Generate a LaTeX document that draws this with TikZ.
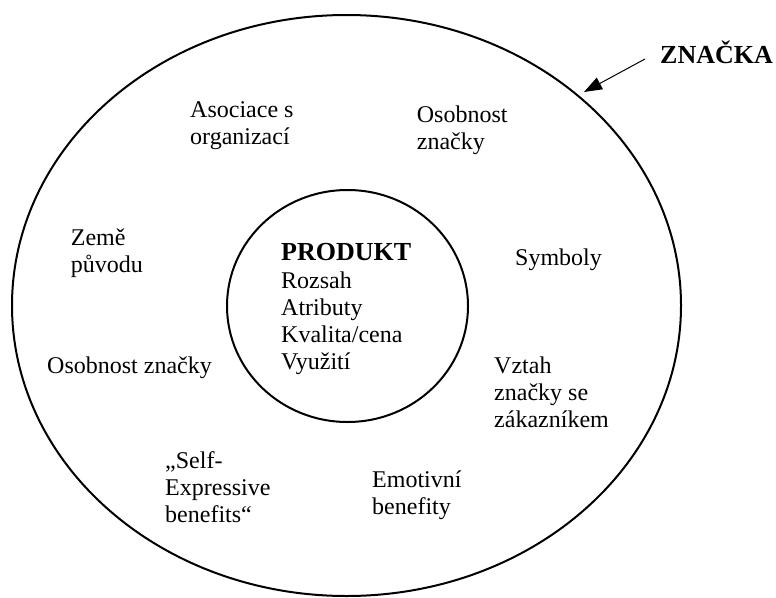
\documentclass[tikz,border=0pt]{standalone}
\usepackage{fontspec}
\setmainfont{Liberation Serif}
\usetikzlibrary{shapes.geometric,arrows.meta}
\begin{document}
\begin{tikzpicture}[x=1pt,y=-1pt,
  ring/.style={draw, line width=2pt, ellipse, inner sep=0pt},
  lbl/.style={anchor=base west, inner sep=0pt, font=\fontsize{24}{27}\selectfont},
  boldlbl/.style={anchor=base west, inner sep=0pt, font=\fontsize{26}{28}\selectfont\bfseries},
  pointer/.style={-{Triangle[length=18pt,width=13pt]}, line width=1pt}]
\useasboundingbox (0,0) rectangle (776,597);
\node[ring, minimum width=669pt, minimum height=581pt] (outer) at (346.5,305.5) {};
\node[ring, minimum width=241pt, minimum height=232pt] (inner) at (347.5,306) {};

\node[lbl] (asoc) at (190,117) {\begin{tabular}[t]{@{}l@{}}Asociace s\\organizací\end{tabular}};
\node[lbl] (osob1) at (416.7,122.7) {\begin{tabular}[t]{@{}l@{}}Osobnost\\značky\end{tabular}};
\node[lbl] (zeme) at (70.7,245) {\begin{tabular}[t]{@{}l@{}}Země\\původu\end{tabular}};
\node[boldlbl] (prod) at (281,260) {PRODUKT};
\node[lbl] (plist) at (281,288) {\begin{tabular}[t]{@{}l@{}}Rozsah\\Atributy\\Kvalita/cena\\Využití\end{tabular}};
\node[lbl] (symb) at (515,265) {Symboly};
\node[lbl] (vztah) at (494,373) {\begin{tabular}[t]{@{}l@{}}Vztah\\značky se\\zákazníkem\end{tabular}};
\node[lbl] (osob2) at (47,373) {Osobnost značky};
\node[lbl] (self) at (165,468) {\begin{tabular}[t]{@{}l@{}}„Self-\\Expressive\\benefits“\end{tabular}};
\node[lbl] (emo) at (372,487) {\begin{tabular}[t]{@{}l@{}}Emotivní\\benefity\end{tabular}};
\node[boldlbl] (znacka) at (660,63.3) {ZNAČKA};

\coordinate (astart) at (645,59);
\coordinate (aend) at (584,92);
\draw[pointer] (astart) -- (aend);
\end{tikzpicture}
\end{document}
